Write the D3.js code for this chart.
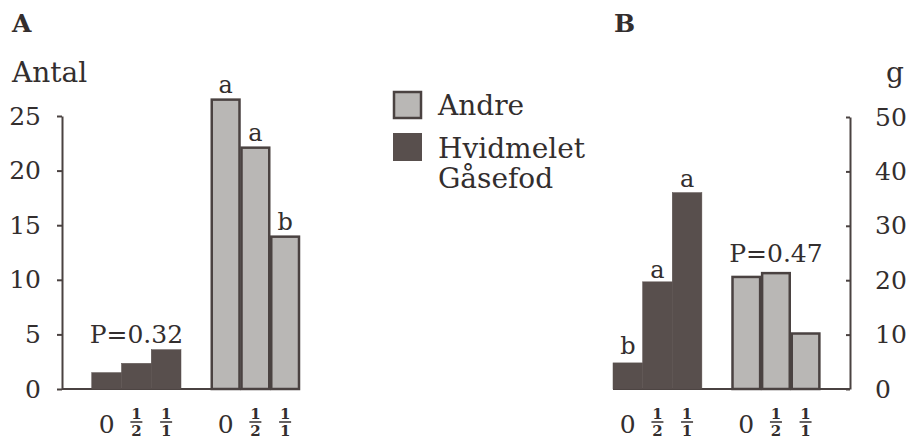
<!DOCTYPE html>
<html>
<head>
<meta charset="utf-8">
<script src="https://cdn.jsdelivr.net/npm/d3@7"></script>
<style>
  body { margin: 0; background: #fff; }
  text { font-family: "DejaVu Serif", serif; fill: #332e2e; }
</style>
</head>
<body>
<div class="chart"></div>
<script>
// slots along the baseline (pad/gap are empty slots)
var slotsA = ["pad", "H0", "H½", "H1", "gap", "A0", "A½", "A1"];
var slotsB = ["H0", "H½", "H1", "gap", "A0", "A½", "A1", "pad"];
var levels = ["0", "½", "1"];
var tickLabels = [["0"], ["1", "2"], ["1", "1"]];

// A: Antal (count)
var hvidA = [1.5, 2.35, 3.6];
var andreA = [26.5, 22.1, 13.95];
var lettersA_andre = ["a", "a", "b"];
var pA = "P=0.32";
var yTicksA = [0, 5, 10, 15, 20, 25];

// B: g (weight)
var hvidB = [4.8, 19.7, 36.1];
var andreB = [20.6, 21.3, 10.2];
var lettersB_hvid = ["b", "a", "a"];
var pB = "P=0.47";
var yTicksB = [0, 10, 20, 30, 40, 50];

var darkCol = "#584f4d",
    lightCol = "#b9b7b5",
    edgeCol = "#4a4241";

var svg = d3.select(".chart").append("svg")
    .attr("width", 919)
    .attr("height", 445);

// ---------- panel A ----------
var xA = d3.scaleBand().domain(slotsA).range([62, 300]).padding(0);
var yA = d3.scaleLinear().domain([0, 25]).range([389, 116]);

var axA = svg.append("g")
    .attr("transform", "translate(62,0)")
    .call(d3.axisLeft(yA).tickValues(yTicksA).tickSizeInner(5).tickSizeOuter(0).tickPadding(16));
axA.selectAll("path, line").attr("stroke", edgeCol).attr("stroke-width", 2);
axA.selectAll("text").attr("font-size", 25).attr("font-family", "DejaVu Serif").attr("fill", "#332e2e");

// baseline
svg.append("line")
    .attr("x1", xA.range()[0]).attr("x2", xA.range()[1])
    .attr("y1", yA(0)).attr("y2", yA(0))
    .attr("stroke", edgeCol).attr("stroke-width", 2);

// ---------- panel B ----------
var xB = d3.scaleBand().domain(slotsB).range([613, 850]).padding(0);
var yB = d3.scaleLinear().domain([0, 50]).range([389, 117]);

var axB = svg.append("g")
    .attr("transform", "translate(850,0)")
    .call(d3.axisRight(yB).tickValues(yTicksB).tickSizeInner(-4).tickSizeOuter(0).tickPadding(25));
axB.selectAll("path, line").attr("stroke", edgeCol).attr("stroke-width", 2);
axB.selectAll("text").attr("font-size", 25).attr("font-family", "DejaVu Serif").attr("fill", "#332e2e");

svg.append("line")
    .attr("x1", xB.range()[0]).attr("x2", xB.range()[1])
    .attr("y1", yB(0)).attr("y2", yB(0))
    .attr("stroke", edgeCol).attr("stroke-width", 2);

function drawBars(x, y, prefix, values, dark) {
  var g = svg.append("g");
  g.selectAll("rect")
    .data(values)
    .enter()
      .append("rect")
      .attr("x", function(d, i) { return x(prefix + levels[i]) + (dark ? 0 : 1) })
      .attr("width", x.bandwidth() - (dark ? 0 : 2))
      .attr("y", function(d) { return y(d) })
      .attr("height", function(d) { return y(0) - y(d) })
      .attr("fill", dark ? darkCol : lightCol)
      .attr("stroke", dark ? darkCol : edgeCol)
      .attr("stroke-width", dark ? 0.5 : 2.5);
}

function drawLetters(x, y, prefix, values, letters, off) {
  svg.append("g").selectAll("text")
    .data(values)
    .enter()
      .append("text")
      .attr("x", function(d, i) { return x(prefix + levels[i]) + x.bandwidth() / 2 })
      .attr("y", function(d, i) { return y(d) - off[i] })
      .attr("text-anchor", "middle")
      .attr("font-size", 24)
      .text(function(d, i) { return letters[i] });
}

function drawTicks(x, prefix) {
  levels.forEach(function(l, i) {
    var cx = x(prefix + l) + x.bandwidth() / 2;
    var lab = tickLabels[i];
    if (lab.length === 1) {
      svg.append("text").attr("x", cx).attr("y", 433)
        .attr("text-anchor", "middle").attr("font-size", 25).text(lab[0]);
    } else {
      svg.append("text").attr("x", cx).attr("y", 419)
        .attr("text-anchor", "middle").attr("font-size", 15).attr("font-weight", "bold").text(lab[0]);
      svg.append("line").attr("x1", cx - 6).attr("x2", cx + 6)
        .attr("y1", 422).attr("y2", 422)
        .attr("stroke", "#332e2e").attr("stroke-width", 1.5);
      svg.append("text").attr("x", cx).attr("y", 436)
        .attr("text-anchor", "middle").attr("font-size", 15).attr("font-weight", "bold").text(lab[1]);
    }
  });
}

function drawP(x, y, prefix, values, label, off) {
  var cx = (x(prefix + levels[0]) + x(prefix + levels[2]) + x.bandwidth()) / 2;
  svg.append("text")
    .attr("x", cx)
    .attr("y", y(d3.max(values)) - off)
    .attr("text-anchor", "middle")
    .attr("font-size", 25)
    .text(label);
}

drawBars(xA, yA, "H", hvidA, true);
drawBars(xA, yA, "A", andreA, false);
drawLetters(xA, yA, "A", andreA, lettersA_andre, [7, 7, 7]);
drawP(xA, yA, "H", hvidA, pA, 7);
drawTicks(xA, "H");
drawTicks(xA, "A");

drawBars(xB, yB, "H", hvidB, true);
drawBars(xB, yB, "A", andreB, false);
drawLetters(xB, yB, "H", hvidB, lettersB_hvid, [9, 4, 6]);
drawP(xB, yB, "A", andreB, pB, 11);
drawTicks(xB, "H");
drawTicks(xB, "A");

// panel letters and axis titles
svg.append("text").attr("x", 12).attr("y", 32).attr("font-size", 25).attr("font-weight", "bold").text("A");
svg.append("text").attr("x", 614).attr("y", 32).attr("font-size", 25).attr("font-weight", "bold").text("B");
svg.append("text").attr("x", 12).attr("y", 82).attr("font-size", 28).text("Antal");
svg.append("text").attr("x", 895).attr("y", 82).attr("text-anchor", "middle").attr("font-size", 28).text("g");

// legend
var legend = svg.append("g").attr("class", "legend").attr("transform", "translate(393,91)");
legend.append("rect").attr("x", 1).attr("y", 1).attr("width", 27).attr("height", 26)
  .attr("fill", lightCol).attr("stroke", edgeCol).attr("stroke-width", 2.5);
legend.append("rect").attr("x", 0).attr("y", 42).attr("width", 29).attr("height", 28)
  .attr("fill", darkCol);
legend.append("text").attr("x", 45).attr("y", 24).attr("font-size", 28).text("Andre");
legend.append("text").attr("x", 45).attr("y", 67).attr("font-size", 28).text("Hvidmelet");
legend.append("text").attr("x", 45).attr("y", 97).attr("font-size", 28).text("Gåsefod");
</script>
</body>
</html>
